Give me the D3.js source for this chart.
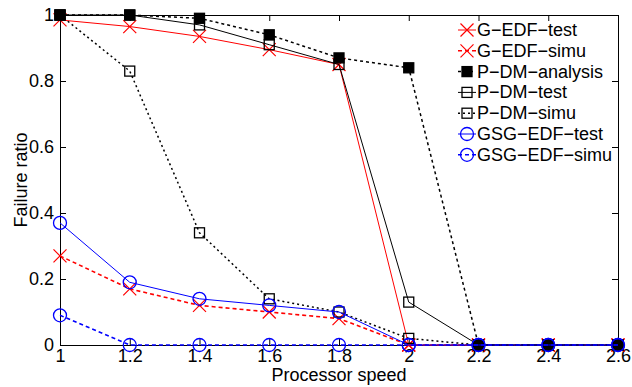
<!DOCTYPE html>
<html>
<head>
<meta charset="utf-8">
<script src="https://cdn.jsdelivr.net/npm/d3@7"></script>
<style>
  body { margin: 0; background: #fff; }
  text { font-family: "Liberation Sans", Arial, sans-serif; }
</style>
</head>
<body>
<script>
// Chart data
var speeds = [1, 1.2, 1.4, 1.6, 1.8, 2, 2.2, 2.4, 2.6];
var yTicks = [0, 0.2, 0.4, 0.6, 0.8, 1];

var gEdfTest    = [0.985, 0.965, 0.935, 0.895, 0.85, 0, 0, 0, 0];
var gEdfSimu    = [0.27, 0.17, 0.12, 0.10, 0.08, 0, 0, 0, 0];
var pDmAnalysis = [1, 1, 0.99, 0.94, 0.87, 0.84, 0, 0, 0];
var pDmTest     = [1, 1, 0.97, 0.91, 0.85, 0.13, 0, 0, 0];
var pDmSimu     = [1, 0.83, 0.34, 0.14, 0.10, 0.02, 0, 0, 0];
var gsgEdfTest  = [0.37, 0.19, 0.14, 0.12, 0.10, 0, 0, 0, 0];
var gsgEdfSimu  = [0.09, 0, 0, 0, 0, 0, 0, 0, 0];

var seriesNames = ["G\u2212EDF\u2212test", "G\u2212EDF\u2212simu", "P\u2212DM\u2212analysis",
                   "P\u2212DM\u2212test", "P\u2212DM\u2212simu", "GSG\u2212EDF\u2212test", "GSG\u2212EDF\u2212simu"];

// styles for each series
var series = [
  { name: seriesNames[0], values: gEdfTest,    color: "#ff0000", dash: null,  width: 1,   marker: "x" },
  { name: seriesNames[1], values: gEdfSimu,    color: "#ff0000", dash: "4,3", width: 1.6, marker: "x" },
  { name: seriesNames[2], values: pDmAnalysis, color: "#000",    dash: "3,3", width: 1.5, marker: "fsquare" },
  { name: seriesNames[3], values: pDmTest,     color: "#000",    dash: null,  width: 1,   marker: "square" },
  { name: seriesNames[4], values: pDmSimu,     color: "#000",    dash: "2,3", width: 1.5, marker: "square" },
  { name: seriesNames[5], values: gsgEdfTest,  color: "#0000ff", dash: null,  width: 1,   marker: "circle" },
  { name: seriesNames[6], values: gsgEdfSimu,  color: "#0000ff", dash: "4,3", width: 1.6, marker: "circle" }
];

var svgWidth = 632;
var svgHeight = 387;
var margin = { top: 15, right: 14, bottom: 42, left: 60 };
var width = svgWidth - margin.left - margin.right;
var height = svgHeight - margin.top - margin.bottom;

var svg = d3.select("body").append("svg")
  .attr("width", svgWidth)
  .attr("height", svgHeight);

var chartGroup = svg.append("g")
  .attr("transform", `translate(${margin.left}, ${margin.top})`);

var xScale = d3.scaleLinear().domain([1, 2.6]).range([0, width]);
var yScale = d3.scaleLinear().domain([0, 1]).range([height, 0]);

// axes, ticks pointing inward on all four sides
var fmt = d3.format("~g");
var bottomAxis = d3.axisBottom(xScale).tickValues(speeds).tickFormat(fmt)
  .tickSizeInner(-6).tickSizeOuter(0).tickPadding(4);
var leftAxis = d3.axisLeft(yScale).tickValues(yTicks).tickFormat(fmt)
  .tickSizeInner(-6).tickSizeOuter(0).tickPadding(6);
var topAxis = d3.axisTop(xScale).tickValues(speeds).tickFormat("")
  .tickSizeInner(-6).tickSizeOuter(0);
var rightAxis = d3.axisRight(yScale).tickValues(yTicks).tickFormat("")
  .tickSizeInner(-6).tickSizeOuter(0);

function styleAxis(g) {
  g.selectAll("path, line").attr("stroke", "#000").attr("stroke-width", 1);
  g.selectAll("text").attr("font-size", 18).attr("fill", "#000")
    .attr("font-family", "'Liberation Sans', Arial, sans-serif");
}

chartGroup.append("g").attr("transform", `translate(0, ${height})`).call(bottomAxis).call(styleAxis);
chartGroup.append("g").call(leftAxis).call(styleAxis);
chartGroup.append("g").call(topAxis).call(styleAxis);
chartGroup.append("g").attr("transform", `translate(${width}, 0)`).call(rightAxis).call(styleAxis);

// axis labels
svg.append("text")
  .attr("x", margin.left + width / 2)
  .attr("y", 381)
  .attr("text-anchor", "middle")
  .attr("font-size", 18)
  .text("Processor speed");

svg.append("text")
  .attr("transform", `translate(27, ${margin.top + height / 2}) rotate(-90)`)
  .attr("text-anchor", "middle")
  .attr("font-size", 18)
  .text("Failure ratio");

// marker drawing
function drawMarker(g, type, color, cx, cy) {
  if (type === "x") {
    var s = 6.5;
    g.append("path")
      .attr("d", `M${cx - s},${cy - s}L${cx + s},${cy + s}M${cx - s},${cy + s}L${cx + s},${cy - s}`)
      .attr("stroke", color).attr("stroke-width", 1.2).attr("fill", "none");
  } else if (type === "circle") {
    g.append("circle").attr("cx", cx).attr("cy", cy).attr("r", 6.5)
      .attr("stroke", color).attr("stroke-width", 1.3).attr("fill", "none");
  } else {
    var h = 5;
    g.append("rect").attr("x", cx - h).attr("y", cy - h).attr("width", 2 * h).attr("height", 2 * h)
      .attr("stroke", color).attr("stroke-width", 1.3)
      .attr("fill", type === "fsquare" ? color : "none");
  }
}

var line = d3.line()
  .x(function(d, i) { return xScale(speeds[i]); })
  .y(function(d) { return yScale(d); });

series.forEach(function(s) {
  var g = chartGroup.append("g");
  g.append("path")
    .attr("d", line(s.values))
    .attr("fill", "none")
    .attr("stroke", s.color)
    .attr("stroke-width", s.width)
    .attr("stroke-dasharray", s.dash);
  s.values.forEach(function(v, i) {
    drawMarker(g, s.marker, s.color, xScale(speeds[i]), yScale(v));
  });
});

// legend (no box)
var legend = svg.append("g");
series.forEach(function(s, i) {
  var cy = 30 + i * 20.8;
  legend.append("line")
    .attr("x1", 458).attr("x2", 476).attr("y1", cy).attr("y2", cy)
    .attr("stroke", s.color).attr("stroke-width", s.width)
    .attr("stroke-dasharray", s.dash);
  drawMarker(legend, s.marker, s.color, 467, cy);
  legend.append("text")
    .attr("x", 477).attr("y", cy + 6)
    .attr("font-size", 18)
    .text(s.name);
});
</script>
</body>
</html>
